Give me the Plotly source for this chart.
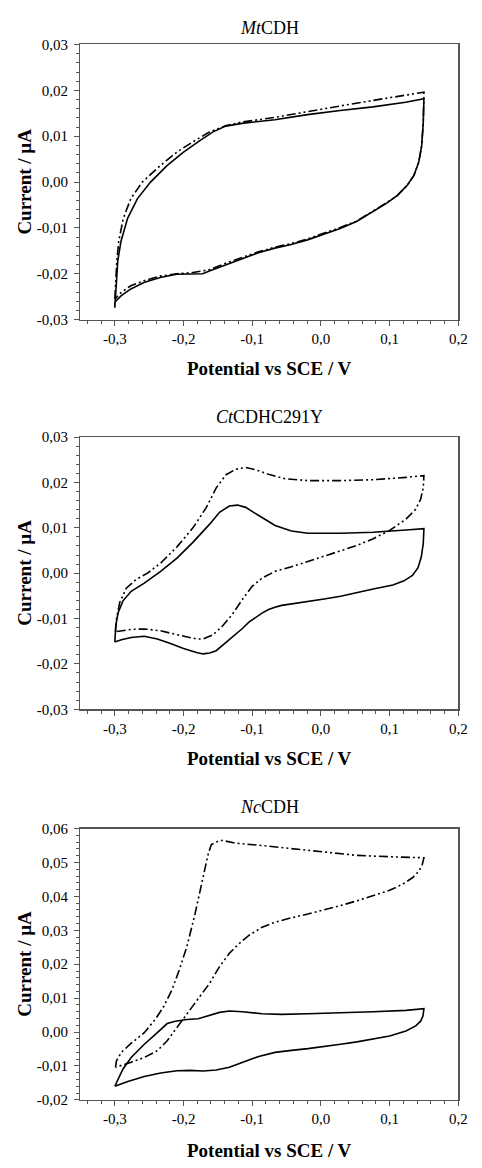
import plotly.graph_objects as go

# ---------------- data (potential V, current µA) ----------------
# Panel 1: MtCDH
mt_solid_x = [-0.300, -0.298, -0.2957, -0.291, -0.2814, -0.267, -0.248, -0.224, -0.2005, -0.1767,
              -0.1576, -0.1386, -0.1148, -0.0671, -0.0195, 0.0281, 0.0757, 0.1233, 0.150,
              0.1490, 0.1467, 0.1424, 0.1352, 0.1257, 0.1114, 0.0948, 0.0757, 0.0519, 0.0281,
              0.0043, -0.0195, -0.0433, -0.0671, -0.091, -0.1148, -0.1386, -0.1624, -0.172,
              -0.186, -0.210, -0.234, -0.2576, -0.2767, -0.291, -0.300, -0.300]
mt_solid_y = [-0.0274, -0.0215, -0.0172, -0.0129, -0.0079, -0.0036, 0.0000, 0.0036, 0.0065, 0.0090,
              0.0109, 0.0122, 0.0128, 0.0136, 0.0147, 0.0156, 0.0164, 0.0174, 0.0182,
              0.0129, 0.0079, 0.0043, 0.0014, -0.0007, -0.0029, -0.0047, -0.0065, -0.0086, -0.0101,
              -0.0113, -0.0126, -0.0136, -0.0144, -0.0154, -0.0167, -0.0180, -0.0194, -0.0200,
              -0.0200, -0.0201, -0.0208, -0.0219, -0.0233, -0.0248, -0.0262, -0.0274]
mt_dash_x = [-0.300, -0.299, -0.2971, -0.2943, -0.2876, -0.2767, -0.260, -0.2338, -0.210, -0.1862,
             -0.1624, -0.1386, -0.1148, -0.0671, -0.0195, 0.0281, 0.0757, 0.1233, 0.150,
             0.1490, 0.1467, 0.1424, 0.1352, 0.1257, 0.1114, 0.0948, 0.0757, 0.0519, 0.0281,
             0.0043, -0.0195, -0.0433, -0.0671, -0.091, -0.1148, -0.1386, -0.1624, -0.186,
             -0.210, -0.234, -0.2576, -0.2767, -0.291, -0.300]
mt_dash_y = [-0.0255, -0.0215, -0.0172, -0.0129, -0.0079, -0.0036, 0.0000, 0.0036, 0.0065, 0.0088,
             0.0109, 0.0123, 0.0131, 0.0141, 0.0154, 0.0166, 0.0178, 0.0189, 0.0196,
             0.0129, 0.0079, 0.0043, 0.0014, -0.0007, -0.0029, -0.0046, -0.0063, -0.0085, -0.0099,
             -0.0112, -0.0124, -0.0134, -0.0142, -0.0152, -0.0164, -0.0177, -0.0191, -0.0197,
             -0.0200, -0.0205, -0.0215, -0.0226, -0.0241, -0.0255]

# Panel 2: CtCDHC291Y
ct_solid_x = [-0.300, -0.2986, -0.2952, -0.2881, -0.2762, -0.2571, -0.2333, -0.2095, -0.1857, -0.1619,
              -0.1476, -0.1333, -0.1214, -0.1095, -0.0905, -0.0667, -0.0429, -0.0190, 0.0286, 0.0762,
              0.1238, 0.150,
              0.149, 0.1462, 0.1414, 0.1333, 0.1210, 0.1048, 0.0762, 0.0524, 0.0286, 0.0048, -0.0190,
              -0.0429, -0.0571, -0.0667, -0.0762, -0.0857, -0.0952, -0.1048, -0.1143, -0.1238,
              -0.1333, -0.1429, -0.1524, -0.1619, -0.1714, -0.181, -0.200, -0.219, -0.2381,
              -0.2571, -0.2762, -0.2905, -0.300]
ct_solid_y = [-0.0152, -0.0116, -0.0087, -0.0061, -0.0040, -0.0022, 0.0004, 0.0033, 0.0069, 0.0108,
              0.0134, 0.0148, 0.0150, 0.0145, 0.0127, 0.0105, 0.0093, 0.0088, 0.0088, 0.0090,
              0.0095, 0.0098,
              0.0065, 0.0036, 0.0012, -0.0005, -0.0017, -0.0026, -0.0035, -0.0043, -0.0051,
              -0.0057, -0.0062, -0.0067, -0.0071, -0.0075, -0.0080, -0.0088, -0.0097, -0.0108,
              -0.0122, -0.0134, -0.0148, -0.0160, -0.0171, -0.0176, -0.0178, -0.0175, -0.0166,
              -0.0155, -0.0145, -0.0139, -0.0142, -0.0147, -0.0152]
ct_dash_x = [-0.299, -0.2976, -0.2929, -0.2833, -0.269, -0.2524, -0.2333, -0.2095, -0.1857, -0.1667,
             -0.1524, -0.1381, -0.1238, -0.1095, -0.0952, -0.0762, -0.0524, -0.0190, 0.0286, 0.0762,
             0.1238, 0.150,
             0.149, 0.1452, 0.1381, 0.1238, 0.100, 0.0762, 0.0524, 0.0286, 0.0048, -0.0190,
             -0.0429, -0.0667, -0.0857, -0.100, -0.1143, -0.1286, -0.1429, -0.1571, -0.1714,
             -0.181, -0.1952, -0.2143, -0.2333, -0.2571, -0.2762, -0.299]
ct_dash_y = [-0.0129, -0.0101, -0.0065, -0.0033, -0.0014, 0.0000, 0.0022, 0.0058, 0.0101, 0.0145,
             0.0188, 0.0217, 0.0229, 0.0233, 0.0228, 0.0218, 0.0208, 0.0204, 0.0204, 0.0206,
             0.0211, 0.0215,
             0.0188, 0.0163, 0.0141, 0.0119, 0.0094, 0.0076, 0.0061, 0.0049, 0.0038, 0.0025,
             0.0014, 0.0004, -0.0011, -0.0029, -0.0058, -0.0090, -0.0116, -0.0136, -0.0145,
             -0.0145, -0.0141, -0.0134, -0.0127, -0.0123, -0.0124, -0.0129]

# Panel 3: NcCDH
nc_solid_x = [-0.300, -0.2952, -0.2881, -0.2762, -0.2571, -0.2381, -0.2238, -0.2119, -0.1952, -0.1786,
              -0.1619, -0.1476, -0.1333, -0.1143, -0.0857, -0.0571, -0.019, 0.0286, 0.0762, 0.1238,
              0.150,
              0.1486, 0.1452, 0.1381, 0.1238, 0.100, 0.0762, 0.0524, 0.0286, 0.0048, -0.019,
              -0.0429, -0.0667, -0.0905, -0.1143, -0.1333, -0.1524, -0.1714, -0.1905, -0.2095,
              -0.2333, -0.2571, -0.281, -0.300]
nc_solid_y = [-0.0160, -0.0138, -0.0109, -0.0075, -0.0036, -0.0002, 0.0025, 0.0032, 0.0037, 0.0039,
              0.0049, 0.0058, 0.0062, 0.0060, 0.0054, 0.0052, 0.0054, 0.0056, 0.0060, 0.0064,
              0.0069,
              0.0047, 0.0032, 0.0018, 0.0003, -0.0012, -0.0021, -0.0029, -0.0036, -0.0043, -0.0049,
              -0.0054, -0.0060, -0.0072, -0.0089, -0.0104, -0.0112, -0.0115, -0.0113, -0.0114,
              -0.0121, -0.0131, -0.0146, -0.0160]
nc_dash_x = [-0.299, -0.2976, -0.2905, -0.2762, -0.2571, -0.2405, -0.2286, -0.2167, -0.2071, -0.1952,
             -0.1833, -0.1714, -0.1643, -0.1595, -0.1476, -0.1429, -0.1238, -0.0905, -0.0429, 0.0048,
             0.0524, 0.100, 0.150,
             0.1476, 0.1429, 0.1333, 0.119, 0.100, 0.0762, 0.0524, 0.0286, 0.0048, -0.019,
             -0.0429, -0.0667, -0.0857, -0.1048, -0.119, -0.1333, -0.1476, -0.1619, -0.1762,
             -0.1905, -0.2048, -0.2143, -0.2238, -0.2381, -0.2571, -0.2762, -0.2881, -0.299]
nc_dash_y = [-0.0104, -0.0085, -0.0060, -0.0033, -0.0002, 0.0039, 0.0076, 0.0125, 0.0178, 0.0251,
             0.0348, 0.0455, 0.0523, 0.0553, 0.0565, 0.0565, 0.0557, 0.0551, 0.0541, 0.0530,
             0.0521, 0.0517, 0.0514,
             0.0494, 0.0475, 0.0455, 0.0436, 0.0418, 0.0402, 0.0387, 0.0373, 0.0360, 0.0348,
             0.0337, 0.0324, 0.0309, 0.0285, 0.0261, 0.0232, 0.0193, 0.0144, 0.0105,
             0.0066, 0.0027, -0.0002, -0.0026, -0.0055, -0.0075, -0.0089, -0.0097, -0.0104]

titles = ["<i>Mt</i>CDH", "<i>Ct</i>CDHC291Y", "<i>Nc</i>CDH"]
x_title = "Potential vs SCE / V"
y_title = "Current / µA"

x_tickvals = [-0.3, -0.2, -0.1, 0.0, 0.1, 0.2]
x_ticktext = ["-0,3", "-0,2", "-0,1", "0,0", "0,1", "0,2"]
y_tickvals_a = [-0.03, -0.02, -0.01, 0.0, 0.01, 0.02, 0.03]
y_ticktext_a = ["-0,03", "-0,02", "-0,01", "0,00", "0,01", "0,02", "0,03"]
y_tickvals_c = [-0.02, -0.01, 0.0, 0.01, 0.02, 0.03, 0.04, 0.05, 0.06]
y_ticktext_c = ["-0,02", "-0,01", "0,00", "0,01", "0,02", "0,03", "0,04", "0,05", "0,06"]

# ---------------- layout geometry (pixels) ----------------
W, H = 482, 1168
PX_L, PX_R = 82, 467
panels = [
    dict(top=37, bot=316, ttl=20, xt=366, yr=[-0.03, 0.03], tv=y_tickvals_a, tt=y_ticktext_a,
         sx=mt_solid_x, sy=mt_solid_y, dx=mt_dash_x, dy=mt_dash_y),
    dict(top=435, bot=711, ttl=415, xt=761, yr=[-0.03, 0.03], tv=y_tickvals_a, tt=y_ticktext_a,
         sx=ct_solid_x, sy=ct_solid_y, dx=ct_dash_x, dy=ct_dash_y),
    dict(top=832, bot=1107, ttl=810, xt=1158, yr=[-0.02, 0.06], tv=y_tickvals_c, tt=y_ticktext_c,
         sx=nc_solid_x, sy=nc_solid_y, dx=nc_dash_x, dy=nc_dash_y),
]

FONT = "Liberation Serif"
AX_COL = "#555555"

fig = go.Figure()
annotations = []
xdom = [PX_L / W, PX_R / W]
xc = (PX_L + PX_R) / 2 / W

for i, p in enumerate(panels):
    n = "" if i == 0 else str(i + 1)
    xa, ya = "x" + n, "y" + n
    fig.add_trace(go.Scatter(x=p["sx"], y=p["sy"], mode="lines", xaxis=xa, yaxis=ya,
                             line=dict(color="black", width=1.6), showlegend=False, hoverinfo="skip"))
    fig.add_trace(go.Scatter(x=p["dx"], y=p["dy"], mode="lines", xaxis=xa, yaxis=ya,
                             line=dict(color="black", width=1.6, dash="9px,3px,2px,3px,2px,3px"),
                             showlegend=False, hoverinfo="skip"))
    ydom = [1 - p["bot"] / H, 1 - p["top"] / H]
    common = dict(showline=True, linecolor=AX_COL, linewidth=1.5, mirror=True, showgrid=False,
                  zeroline=False, ticks="outside", ticklen=5, tickwidth=1, tickcolor=AX_COL,
                  tickfont=dict(family=FONT, size=15, color="black"), tickmode="array")
    fig.layout["xaxis" + n] = dict(common, domain=xdom, range=[-0.35, 0.2], anchor=ya,
                                   tickvals=x_tickvals, ticktext=x_ticktext,
                                   minor=dict(tickmode="linear", tick0=0, dtick=0.02, ticklen=3,
                                              ticks="outside", tickcolor=AX_COL))
    fig.layout["yaxis" + n] = dict(common, domain=ydom, range=p["yr"], anchor=xa,
                                   tickvals=p["tv"], ticktext=p["tt"], ticklabelstandoff=3,
                                   minor=dict(tickmode="linear", tick0=0, dtick=0.002, ticklen=3,
                                              ticks="outside", tickcolor=AX_COL))
    annotations.append(dict(text=titles[i], x=xc, y=1 - p["ttl"] / H, xref="paper", yref="paper",
                            showarrow=False, xanchor="center", yanchor="middle",
                            font=dict(family=FONT, size=18, color="black")))
    annotations.append(dict(text="<b>" + x_title + "</b>", x=xc, y=1 - p["xt"] / H, xref="paper",
                            yref="paper", showarrow=False, xanchor="center", yanchor="middle",
                            font=dict(family=FONT, size=19, color="black")))
    annotations.append(dict(text="<b>" + y_title + "</b>", x=25 / W, y=1 - (p["top"] + p["bot"]) / 2 / H,
                            xref="paper", yref="paper", showarrow=False, textangle=-90,
                            xanchor="center", yanchor="middle",
                            font=dict(family=FONT, size=19, color="black")))

fig.update_layout(width=W, height=H, margin=dict(l=0, r=0, t=0, b=0),
                  paper_bgcolor="white", plot_bgcolor="white", annotations=annotations,
                  showlegend=False)

fig.write_html("out.html", config={"displayModeBar": False, "staticPlot": True},
               post_script="document.body.style.margin='0';")
